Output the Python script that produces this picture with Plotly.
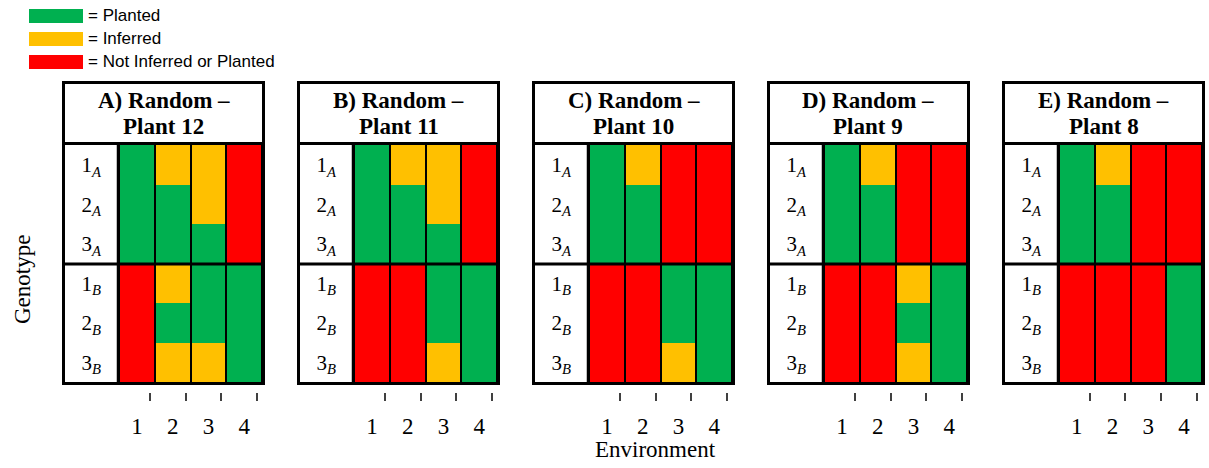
import plotly.graph_objects as go

# ---------------- data ----------------
title_line1 = ["A) Random –", "B) Random –", "C) Random –", "D) Random –", "E) Random –"]
title_line2 = ["Plant 12", "Plant 11", "Plant 10", "Plant 9", "Plant 8"]
genotypes = ["1<sub><i>A</i></sub>", "2<sub><i>A</i></sub>", "3<sub><i>A</i></sub>",
             "1<sub><i>B</i></sub>", "2<sub><i>B</i></sub>", "3<sub><i>B</i></sub>"]
environments = ["1", "2", "3", "4"]

# P = Planted, I = Inferred, N = Not Inferred or Planted  (rows = genotypes, cols = environments)
plant12 = ["PIIN", "PPIN", "PPPN", "NIPP", "NPPP", "NIIP"]
plant11 = ["PIIN", "PPIN", "PPPN", "NNPP", "NNPP", "NNIP"]
plant10 = ["PINN", "PPNN", "PPNN", "NNPP", "NNPP", "NNIP"]
plant9 = ["PINN", "PPNN", "PPNN", "NNIP", "NNPP", "NNIP"]
plant8 = ["PINN", "PPNN", "PPNN", "NNNP", "NNNP", "NNNP"]
panels = [plant12, plant11, plant10, plant9, plant8]

status_codes = ["P", "I", "N"]
status_labels = ["= Planted", "= Inferred", "= Not Inferred or Planted"]
status_colors = ["#00B050", "#FFC000", "#FF0000"]

# ---------------- layout helpers ----------------
W, H = 1209, 468


def px(x):
    return x / W


def py(y):
    return 1 - y / H


SERIF = "Liberation Serif, Times New Roman, serif"
fig = go.Figure()
shapes = []
annotations = []

colorscale = [[0, status_colors[0]], [0.5, status_colors[1]], [1, status_colors[2]]]

for i, grid in enumerate(panels):
    L = 62 + 235 * i
    n = i + 1
    xa = "x" if n == 1 else f"x{n}"
    ya = "y" if n == 1 else f"y{n}"
    z = [[status_codes.index(c) for c in row] for row in grid]
    fig.add_trace(go.Heatmap(
        z=z, x=list(range(len(environments))), y=list(range(len(genotypes))),
        colorscale=colorscale, zmin=0, zmax=2, showscale=False,
        xgap=2, ygap=0, hoverinfo="skip", xaxis=xa, yaxis=ya))

    xkey = "xaxis" if n == 1 else f"xaxis{n}"
    ykey = "yaxis" if n == 1 else f"yaxis{n}"
    fig.update_layout(**{
        xkey: dict(
            domain=[px(L + 57), px(L + 200)], range=[-0.5, 3.5],
            anchor="free", position=py(392),
            tickvals=list(range(4)), ticktext=environments,
            ticks="", showline=False, showgrid=False, zeroline=False,
            tickfont=dict(family=SERIF, size=23, color="black"),
            ticklabelstandoff=18, automargin=False,
            minor=dict(tickvals=[k + 0.36 for k in range(4)], ticks="outside",
                       ticklen=8, tickwidth=1.5, tickcolor="#404040", showgrid=False),
        ),
        ykey: dict(
            domain=[py(382), py(145)], range=[5.5, -0.5], anchor=xa,
            tickvals=list(range(6)), ticktext=genotypes,
            ticks="", showline=False, showgrid=False, zeroline=False,
            tickfont=dict(family=SERIF, size=21, color="black"),
            ticklabelstandoff=17, automargin=False,
        ),
    })

    line = dict(color="black", width=3)
    shapes += [
        dict(type="rect", xref="paper", yref="paper", x0=px(L + 1.5), x1=px(L + 201.5),
             y0=py(383.5), y1=py(82.5), line=line, fillcolor="rgba(0,0,0,0)"),
        dict(type="line", xref="paper", yref="paper", x0=px(L + 1.5), x1=px(L + 201.5),
             y0=py(143.5), y1=py(143.5), line=line),
        dict(type="line", xref="paper", yref="paper", x0=px(L + 1.5), x1=px(L + 201.5),
             y0=py(264), y1=py(264), line=line),
        dict(type="line", xref="paper", yref="paper", x0=px(L + 56), x1=px(L + 56),
             y0=py(143.5), y1=py(383.5), line=dict(color="black", width=2.5)),
    ]
    cx = px(L + 101.5)
    annotations += [
        dict(text=f"<b>{title_line1[i]}</b>", x=cx, y=py(100), xref="paper", yref="paper",
             xanchor="center", yanchor="middle", showarrow=False,
             font=dict(family=SERIF, size=23, color="black")),
        dict(text=f"<b>{title_line2[i]}</b>", x=cx, y=py(127), xref="paper", yref="paper",
             xanchor="center", yanchor="middle", showarrow=False,
             font=dict(family=SERIF, size=23, color="black")),
    ]

# legend (top-left)
for k, (lab, col) in enumerate(zip(status_labels, status_colors)):
    y0 = 9 + 23 * k
    shapes.append(dict(type="rect", xref="paper", yref="paper", x0=px(29), x1=px(83),
                       y0=py(y0 + 14), y1=py(y0), line=dict(width=0), fillcolor=col))
    annotations.append(dict(text=lab, x=px(86), y=py(y0 + 6.5), xref="paper", yref="paper",
                            xanchor="left", yanchor="middle", showarrow=False,
                            font=dict(family="Liberation Sans, Arial, sans-serif", size=17,
                                      color="black")))

# axis titles
annotations.append(dict(text="Environment", x=px(655), y=py(449), xref="paper", yref="paper",
                        xanchor="center", yanchor="middle", showarrow=False,
                        font=dict(family=SERIF, size=23, color="black")))
annotations.append(dict(text="Genotype", x=px(22), y=py(280), xref="paper", yref="paper",
                        xanchor="center", yanchor="middle", showarrow=False, textangle=-90,
                        font=dict(family=SERIF, size=23, color="black")))

fig.update_layout(
    width=W, height=H, template="none",
    margin=dict(l=0, r=0, t=0, b=0, pad=0),
    paper_bgcolor="white", plot_bgcolor="black",
    showlegend=False, shapes=shapes, annotations=annotations,
)

# place the figure flush with the window corner (no default page margin / scrollbars)
fig.write_html(
    "out.html",
    config={"displayModeBar": False},
    post_script="document.body.style.margin='0px';document.body.style.padding='0px';"
                "document.documentElement.style.overflow='hidden';"
                "document.body.style.overflow='hidden';",
)
